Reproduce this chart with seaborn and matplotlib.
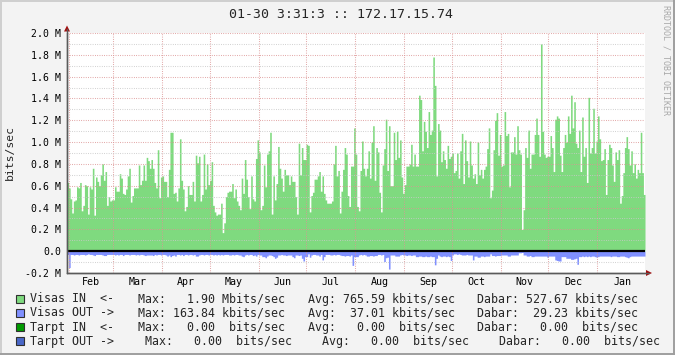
import numpy as np
import pandas as pd
import matplotlib
matplotlib.use("Agg")
import matplotlib.pyplot as plt
from matplotlib.patches import Polygon, Rectangle
from matplotlib.lines import Line2D
import seaborn as sns

# ---------------- data ----------------
title = "01-30 3:31:3 :: 172.17.15.74"
start_date = "2010-01-31"          # first day shown (one value per day)
month_labels = ["Feb", "Mar", "Apr", "May", "Jun", "Jul",
                "Aug", "Sep", "Oct", "Nov", "Dec", "Jan"]
y_tick_values = [-0.2, 0.0, 0.2, 0.4, 0.6, 0.8, 1.0, 1.2, 1.4, 1.6, 1.8, 2.0]
y_tick_labels = ["-0.2 M", "0.0", "0.2 M", "0.4 M", "0.6 M", "0.8 M",
                 "1.0 M", "1.2 M", "1.4 M", "1.6 M", "1.8 M", "2.0 M"]
y_minor_values = [-0.1, 0.1, 0.3, 0.5, 0.7, 0.9, 1.1, 1.3, 1.5, 1.7, 1.9]

# Visas IN, Mbit/s per day
visas_in_part1 = [0.63, 0.58, 0.48, 0.35, 0.46, 0.47, 0.59, 0.58, 0.63, 0.37,
                  0.42, 0.61, 0.60, 0.34, 0.59, 0.57, 0.76, 0.33, 0.68, 0.64,
                  0.60, 0.70, 0.80, 0.65, 0.73, 0.42, 0.50, 0.46, 0.47, 0.47,
                  0.59, 0.55, 0.55, 0.71, 0.67, 0.53, 0.52, 0.57, 0.69, 0.76,
                  0.45, 0.51, 0.58, 0.58, 0.58, 0.79, 0.61, 0.65, 0.79, 0.65,
                  0.86, 0.83, 0.76, 0.84, 0.76, 0.63, 0.58, 0.93, 0.49, 0.68,
                  0.69, 0.64, 0.64, 0.50, 0.75, 1.09, 1.09, 0.53, 0.54, 0.46,
                  0.58, 1.03, 0.65, 0.57]
visas_in_part2 = [0.37, 0.41, 0.60, 0.52, 0.52, 0.64, 0.46, 0.88, 0.81, 0.87,
                  0.46, 0.52, 0.89, 0.57, 0.80, 0.61, 0.65, 0.82, 0.42, 0.36,
                  0.33, 0.34, 0.34, 0.44, 0.17, 0.26, 0.50, 0.54, 0.55, 0.55,
                  0.62, 0.49, 0.57, 0.46, 0.42, 0.38, 0.67, 0.53, 0.84, 0.66,
                  0.50, 0.39, 0.69, 0.48, 0.46, 0.85, 1.02, 0.91, 0.38, 0.42,
                  0.79, 0.59, 0.89, 0.92, 1.09, 0.34, 0.69, 0.47, 0.62, 0.96,
                  0.76, 0.67, 0.55, 0.75, 0.70, 0.70, 0.61, 0.69, 0.64, 0.64,
                  0.50, 0.34, 0.99]
visas_in_part3 = [0.70, 0.95, 0.84, 0.84, 0.98, 0.97, 0.36, 0.51, 0.54, 0.66,
                  0.66, 0.69, 0.73, 0.55, 0.69, 0.53, 0.47, 0.44, 0.44, 0.44,
                  0.46, 0.80, 0.97, 0.69, 0.74, 0.35, 0.55, 0.75, 0.95, 0.89,
                  0.51, 0.41, 0.78, 0.78, 1.13, 0.89, 0.41, 0.37, 0.74, 1.01,
                  0.76, 0.69, 0.76, 0.92, 0.67, 1.00, 1.15, 0.65, 0.95, 0.91,
                  0.54, 0.36, 0.79, 0.94, 1.21, 0.74, 1.15, 0.60, 0.60, 1.09,
                  0.84, 1.10, 0.86, 1.02, 0.68, 0.53, 0.61, 0.78, 0.78, 0.80,
                  0.98, 0.78, 0.89]
visas_in_part4 = [0.78, 0.78, 1.43, 1.39, 0.92, 1.19, 1.10, 0.95, 1.28, 1.07,
                  1.11, 1.78, 1.52, 0.69, 1.17, 1.11, 0.82, 0.92, 0.84, 0.76,
                  0.97, 0.85, 0.87, 0.90, 0.72, 0.74, 0.90, 0.67, 0.92, 1.08,
                  0.62, 1.02, 0.83, 0.68, 1.01, 0.79, 0.67, 0.71, 0.62, 1.00,
                  0.70, 0.75, 0.67, 0.75, 0.78, 0.94, 1.13, 0.49, 0.56, 0.93,
                  1.20, 1.27, 0.88, 1.07, 0.78, 0.79, 1.28, 1.06, 1.08, 0.59,
                  0.91, 0.91, 1.05, 0.89, 1.15, 0.93, 0.89, 0.20, 0.38, 0.95,
                  0.86, 1.11, 0.76]
visas_in_part5 = [0.89, 0.89, 1.07, 1.22, 1.07, 0.87, 1.90, 1.10, 0.89, 0.86,
                  0.87, 0.87, 1.06, 0.95, 0.73, 1.21, 1.24, 1.22, 0.88, 0.73,
                  0.95, 1.07, 1.00, 1.24, 1.08, 1.43, 1.13, 1.37, 0.99, 0.95,
                  1.11, 0.73, 1.23, 0.87, 0.95, 0.63, 1.41, 0.90, 0.95, 1.31,
                  0.90, 1.01, 1.24, 1.03, 0.83, 0.84, 0.94, 0.52, 0.84, 0.98,
                  0.95, 0.79, 0.64, 0.91, 0.84, 0.93, 0.44, 0.51, 0.72, 0.95,
                  1.05, 0.94, 0.79, 0.92, 0.72, 0.80, 0.67, 0.75, 0.72, 1.09,
                  0.72, 0.52]

# Visas OUT, Mbit/s per day (drawn below zero)
visas_out_part1 = [0.03, 0.15, 0.03, 0.03, 0.035, 0.03, 0.03, 0.035, 0.03, 0.03,
                   0.03, 0.035, 0.03, 0.025, 0.03, 0.03, 0.035, 0.04, 0.03, 0.03,
                   0.03, 0.03, 0.035, 0.04, 0.04, 0.03, 0.03, 0.03, 0.03, 0.03,
                   0.035, 0.03, 0.035, 0.03, 0.03, 0.04, 0.03, 0.03, 0.03, 0.035,
                   0.03, 0.03, 0.03, 0.035, 0.03, 0.035, 0.03, 0.03, 0.035, 0.04,
                   0.035, 0.035, 0.035, 0.035, 0.04, 0.03, 0.035, 0.03, 0.03, 0.035,
                   0.03, 0.03, 0.035, 0.045, 0.035, 0.05, 0.04, 0.035, 0.045, 0.03,
                   0.03, 0.035, 0.03, 0.04]
visas_out_part2 = [0.03, 0.03, 0.035, 0.03, 0.03, 0.035, 0.03, 0.045, 0.045, 0.035,
                   0.03, 0.03, 0.035, 0.03, 0.03, 0.035, 0.03, 0.03, 0.035, 0.03,
                   0.035, 0.03, 0.035, 0.03, 0.035, 0.03, 0.03, 0.03, 0.035, 0.035,
                   0.03, 0.035, 0.03, 0.03, 0.035, 0.035, 0.045, 0.05, 0.035, 0.03,
                   0.035, 0.03, 0.03, 0.04, 0.035, 0.045, 0.03, 0.035, 0.035, 0.05,
                   0.05, 0.06, 0.045, 0.035, 0.035, 0.04, 0.05, 0.065, 0.055, 0.035,
                   0.035, 0.03, 0.035, 0.035, 0.04, 0.035, 0.035, 0.035, 0.05, 0.06,
                   0.035, 0.035, 0.04]
visas_out_part3 = [0.035, 0.065, 0.09, 0.05, 0.05, 0.025, 0.055, 0.035, 0.03, 0.03,
                   0.035, 0.035, 0.045, 0.03, 0.08, 0.05, 0.03, 0.03, 0.03, 0.035,
                   0.035, 0.03, 0.035, 0.03, 0.03, 0.035, 0.04, 0.04, 0.045, 0.04,
                   0.04, 0.045, 0.035, 0.13, 0.05, 0.05, 0.05, 0.035, 0.03, 0.035,
                   0.03, 0.035, 0.045, 0.045, 0.04, 0.04, 0.045, 0.04, 0.04, 0.03,
                   0.03, 0.035, 0.03, 0.095, 0.06, 0.055, 0.164, 0.035, 0.035, 0.035,
                   0.045, 0.045, 0.045, 0.035, 0.03, 0.035, 0.035, 0.04, 0.035, 0.035,
                   0.04, 0.035, 0.035]
visas_out_part4 = [0.05, 0.05, 0.045, 0.045, 0.05, 0.05, 0.045, 0.05, 0.05, 0.045,
                   0.05, 0.05, 0.125, 0.065, 0.035, 0.045, 0.05, 0.045, 0.045, 0.05,
                   0.045, 0.05, 0.085, 0.035, 0.025, 0.025, 0.03, 0.025, 0.03, 0.035,
                   0.035, 0.035, 0.03, 0.035, 0.035, 0.035, 0.08, 0.045, 0.045, 0.055,
                   0.055, 0.045, 0.045, 0.05, 0.045, 0.045, 0.045, 0.025, 0.04, 0.04,
                   0.045, 0.04, 0.04, 0.04, 0.035, 0.035, 0.035, 0.035, 0.045, 0.045,
                   0.035, 0.035, 0.035, 0.035, 0.035, 0.015, 0.015, 0.012, 0.035, 0.035,
                   0.045, 0.045, 0.04]
visas_out_part5 = [0.05, 0.05, 0.045, 0.045, 0.045, 0.045, 0.045, 0.045, 0.045, 0.045,
                   0.055, 0.045, 0.045, 0.045, 0.045, 0.08, 0.085, 0.09, 0.09, 0.05,
                   0.05, 0.05, 0.065, 0.065, 0.065, 0.075, 0.075, 0.07, 0.065, 0.12,
                   0.05, 0.05, 0.045, 0.05, 0.045, 0.05, 0.045, 0.05, 0.045, 0.045,
                   0.05, 0.055, 0.05, 0.045, 0.045, 0.045, 0.045, 0.045, 0.045, 0.045,
                   0.05, 0.045, 0.045, 0.045, 0.05, 0.05, 0.045, 0.045, 0.045, 0.05,
                   0.055, 0.06, 0.05, 0.045, 0.045, 0.045, 0.045, 0.045, 0.045, 0.045,
                   0.045, 0.045]

legend_names = ["Visas IN  <-", "Visas OUT ->", "Tarpt IN  <-", "Tarpt OUT ->"]
legend_max = ["Max:   1.90 Mbits/sec", "Max: 163.84 kbits/sec",
              "Max:   0.00  bits/sec", "Max:   0.00  bits/sec"]
legend_avg = ["Avg: 765.59 kbits/sec", "Avg:  37.01 kbits/sec",
              "Avg:   0.00  bits/sec", "Avg:   0.00  bits/sec"]
legend_last = ["Dabar: 527.67 kbits/sec", "Dabar:  29.23 kbits/sec",
               "Dabar:   0.00  bits/sec", "Dabar:   0.00  bits/sec"]

# ---------------- style ----------------
GREEN = "#7FDA7F"
BLUE = "#8090FF"
legend_colors = [GREEN, BLUE, "#009A00", "#4A68C8"]
BG = "#F3F3F3"
MINOR_GRID = "#C8C8C8"
MAJOR_GRID = "#DC9494"
AXIS = "#5A5A5A"
ARROW = "#A01010"

sns.set_theme(style="white")
plt.rcParams["font.family"] = ["DejaVu Sans Mono", "DejaVu Sans"]

W, H = 675, 355
fig = plt.figure(figsize=(W / 100, H / 100), dpi=100, facecolor=BG)


def fx(px):
    return px / W


def fy(py):
    return 1 - py / H


L, R, T, B = 67, 645, 33, 273
ax = fig.add_axes([fx(L), fy(B), fx(R) - fx(L), fy(T) - fy(B)])
ax.set_facecolor("white")

visas_in = np.concatenate([visas_in_part1, visas_in_part2, visas_in_part3,
                           visas_in_part4, visas_in_part5]) * 1e6
visas_out = np.concatenate([visas_out_part1, visas_out_part2, visas_out_part3,
                            visas_out_part4, visas_out_part5]) * 1e6
n_days = len(visas_in)
df = pd.DataFrame({"day": np.arange(n_days) + 0.5,
                   "in_bps": visas_in,
                   "out_bps": -visas_out})

sns.histplot(data=df, x="day", weights="in_bps", binwidth=1, binrange=(0, n_days),
             element="step", fill=True, color=GREEN, alpha=1, linewidth=0,
             antialiased=False, ax=ax, zorder=1)
sns.histplot(data=df, x="day", weights="out_bps", binwidth=1, binrange=(0, n_days),
             element="step", fill=True, color=BLUE, alpha=1, linewidth=0,
             antialiased=False, ax=ax, zorder=1)

ax.axhline(0, color="black", lw=1.6, zorder=4)

# axes ranges
ax.set_xlim(0, n_days)
ax.set_ylim(y_tick_values[0] * 1e6, y_tick_values[-1] * 1e6)
ax.set_xlabel("")
ax.set_ylabel("")

# y ticks / grid
ax.set_yticks([v * 1e6 for v in y_tick_values])
ax.set_yticklabels(y_tick_labels)
ax.set_yticks([v * 1e6 for v in y_minor_values], minor=True)

# x: month boundaries and mid-month labels
start = pd.Timestamp(start_date)
month_starts = pd.date_range(start + pd.Timedelta(days=1), periods=13, freq="MS")
mpos = np.array([(m - start).days for m in month_starts], dtype=float)
ax.set_xticks(mpos[:12])
ax.set_xticklabels([""] * 12)
ax.set_xticks((mpos[:12] + mpos[1:]) / 2, minor=True)
ax.set_xticklabels(month_labels, minor=True)

ax.set_axisbelow(False)
dash = (0, (0.75, 1.45))
ax.yaxis.grid(True, which="major", color=MAJOR_GRID, lw=0.75, linestyle=dash, zorder=2)
ax.yaxis.grid(True, which="minor", color=MINOR_GRID, lw=0.75, linestyle=dash, zorder=2)
ax.xaxis.grid(True, which="major", color=MAJOR_GRID, lw=0.75, linestyle=dash, zorder=2)
ax.xaxis.grid(False, which="minor")

ax.tick_params(axis="y", which="both", direction="inout", length=3.6, width=0.8,
               color=AXIS, labelsize=7.1, pad=2.2, labelcolor="black")
ax.tick_params(axis="x", which="major", direction="inout", length=3.6, width=0.8,
               color=AXIS, pad=1)
ax.tick_params(axis="x", which="minor", length=0, labelsize=7.2, pad=3.0,
               labelcolor="black")

for s in ["top", "right"]:
    ax.spines[s].set_visible(False)
for s in ["left", "bottom"]:
    ax.spines[s].set_color(AXIS)
    ax.spines[s].set_linewidth(1.0)
    ax.spines[s].set_zorder(5)

# axis extensions and arrows (pixel coords)
fig.add_artist(Line2D([fx(L), fx(L)], [fy(B), fy(29)], color=AXIS, lw=1.0))
fig.add_artist(Line2D([fx(L), fx(649)], [fy(B), fy(B)], color=AXIS, lw=1.0))
fig.add_artist(Polygon([[fx(64), fy(31.5)], [fx(70), fy(31.5)], [fx(67), fy(25.5)]],
                       closed=True, transform=fig.transFigure, color=ARROW, lw=0))
fig.add_artist(Polygon([[fx(646), fy(270)], [fx(646), fy(276)], [fx(652), fy(273)]],
                       closed=True, transform=fig.transFigure, color=ARROW, lw=0))

# texts
fig.text(fx(341), fy(14), title, ha="center", va="center", fontsize=9.5)
fig.text(fx(10), fy(152), "bits/sec", rotation=90, ha="center", va="center",
         fontsize=8.2)
fig.text(fx(666), fy(5), "RRDTOOL / TOBI OETIKER", rotation=270, ha="center",
         va="top", fontsize=6.0, color="#A8A8A8")

# legend
row_y = [299, 313, 327, 341]
col_x = [[30, 138, 308, 477], [30, 138, 308, 477],
         [30, 138, 308, 477], [30, 145, 322, 499]]
for i in range(4):
    y = row_y[i]
    fig.add_artist(Rectangle((fx(16), fy(y + 4)), fx(8), 8 / H,
                             transform=fig.transFigure, facecolor=legend_colors[i],
                             edgecolor="#303030", lw=0.8))
    for s, x in zip([legend_names[i], legend_max[i], legend_avg[i], legend_last[i]],
                    col_x[i]):
        fig.text(fx(x), fy(y), s, ha="left", va="center", fontsize=8.4)

# frame shading
fig.add_artist(Line2D([0, 1], [fy(0.7), fy(0.7)], color="#CFCFCF", lw=1.4))
fig.add_artist(Line2D([fx(0.7), fx(0.7)], [0, 1], color="#CFCFCF", lw=1.4))
fig.add_artist(Line2D([0, 1], [fy(354.3), fy(354.3)], color="#9E9E9E", lw=1.4))
fig.add_artist(Line2D([fx(674.3), fx(674.3)], [0, 1], color="#9E9E9E", lw=1.4))

fig.savefig("out.png", dpi=100, facecolor=fig.get_facecolor())
